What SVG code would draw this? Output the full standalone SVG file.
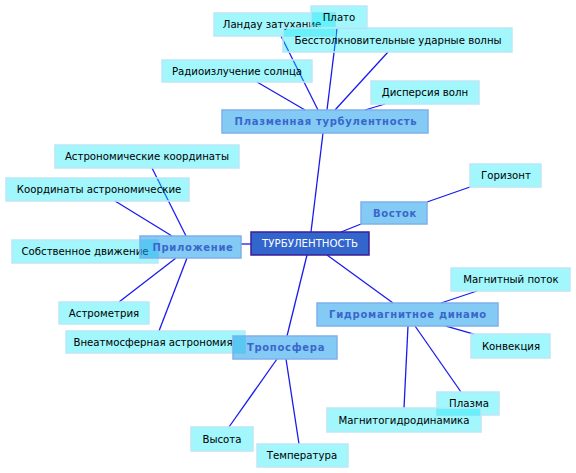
<svg xmlns="http://www.w3.org/2000/svg" width="576" height="473" viewBox="0 0 576 473">
<style>
.leaf rect{fill:#00e8f6;fill-opacity:0.37;stroke:#bce6f6;stroke-width:1.5}
.leaf text{font-family:"DejaVu Sans",sans-serif;font-size:10.2px;fill:#000;text-anchor:middle;dominant-baseline:central}
.cat rect{fill:#1ea0eb;fill-opacity:0.55;stroke:#7fb0ea;stroke-width:1.5}
.cat text{font-family:"DejaVu Sans",sans-serif;font-size:10px;font-weight:bold;fill:#3a66cc;letter-spacing:0.7px;text-anchor:middle;dominant-baseline:central}
.root rect{fill:#3366cc;stroke:#3a1f99;stroke-width:1.5}
.root text{font-family:"DejaVu Sans",sans-serif;font-size:10.2px;fill:#fff;text-anchor:middle;dominant-baseline:central}
#connectors line{stroke:#1a1aee;stroke-width:1.3}
</style>
<rect width="576" height="473" fill="#fff"/>
<g id="connectors">
<line x1="311" y1="232" x2="323" y2="133"/>
<line x1="241" y1="244" x2="251" y2="244"/>
<line x1="341" y1="232" x2="361" y2="224"/>
<line x1="327" y1="255" x2="393" y2="303"/>
<line x1="307" y1="255" x2="287" y2="336"/>
<line x1="427" y1="202" x2="470" y2="187"/>
<line x1="441" y1="303" x2="477" y2="291"/>
<line x1="446" y1="326" x2="474" y2="334"/>
<line x1="415" y1="326" x2="461" y2="392"/>
<line x1="408" y1="326" x2="404" y2="408"/>
<line x1="277" y1="359" x2="229" y2="427"/>
<line x1="286" y1="359" x2="299" y2="444"/>
<line x1="186" y1="236" x2="152" y2="168"/>
<line x1="172" y1="236" x2="115" y2="201"/>
<line x1="176" y1="258" x2="119" y2="302"/>
<line x1="187" y1="258" x2="159" y2="331"/>
<line x1="305" y1="110" x2="257" y2="82"/>
<line x1="318" y1="110" x2="281" y2="36"/>
<line x1="327" y1="110" x2="337" y2="28"/>
<line x1="335" y1="110" x2="388" y2="52"/>
<line x1="365" y1="110" x2="385" y2="104"/>
</g>
<g id="n-landau" class="leaf"><rect x="214" y="13" width="121" height="23"/><text x="272" y="24.5">Ландау затухание</text></g>
<g id="n-plato" class="leaf"><rect x="311" y="6" width="56" height="22"/><text x="339" y="17">Плато</text></g>
<g id="n-bess" class="leaf"><rect x="283" y="28" width="229" height="24"/><text x="398" y="40">Бесстолкновительные ударные волны</text></g>
<g id="n-radio" class="leaf"><rect x="162" y="60" width="150" height="22"/><text x="237" y="71">Радиоизлучение солнца</text></g>
<g id="n-disp" class="leaf"><rect x="371" y="81" width="108" height="23"/><text x="425" y="92.5">Дисперсия волн</text></g>
<g id="n-plasmaturb" class="cat"><rect x="222" y="110" width="206" height="23"/><text x="326" y="121.5">Плазменная турбулентность</text></g>
<g id="n-astrocoord" class="leaf"><rect x="55" y="145" width="184" height="23"/><text x="147" y="156.5">Астрономические координаты</text></g>
<g id="n-coordastro" class="leaf"><rect x="6" y="178" width="183" height="23"/><text x="99" y="189.5">Координаты астрономические</text></g>
<g id="n-gorizont" class="leaf"><rect x="470" y="164" width="71" height="23"/><text x="506" y="175.5">Горизонт</text></g>
<g id="n-vostok" class="cat"><rect x="361" y="202" width="66" height="22"/><text x="395" y="213">Восток</text></g>
<g id="n-root" class="root"><rect x="251" y="232" width="118" height="23"/><text x="310" y="243.5">ТУРБУЛЕНТНОСТЬ</text></g>
<g id="n-sobstv" class="leaf"><rect x="12" y="240" width="146" height="23"/><text x="85" y="251.5">Собственное движение</text></g>
<g id="n-prilozh" class="cat"><rect x="140" y="236" width="101" height="22"/><text x="193" y="247">Приложение</text></g>
<g id="n-magpotok" class="leaf"><rect x="451" y="268" width="119" height="23"/><text x="511" y="279.5">Магнитный поток</text></g>
<g id="n-astrometr" class="leaf"><rect x="59" y="302" width="90" height="22"/><text x="104" y="313">Астрометрия</text></g>
<g id="n-gidro" class="cat"><rect x="317" y="303" width="181" height="23"/><text x="408" y="314.5">Гидромагнитное динамо</text></g>
<g id="n-vneatm" class="leaf"><rect x="66" y="331" width="179" height="22"/><text x="153" y="342">Внеатмосферная астрономия</text></g>
<g id="n-konv" class="leaf"><rect x="471" y="334" width="79" height="24"/><text x="511" y="346">Конвекция</text></g>
<g id="n-tropo" class="cat"><rect x="233" y="336" width="104" height="23"/><text x="286" y="347.5">Тропосфера</text></g>
<g id="n-plazma" class="leaf"><rect x="437" y="392" width="62" height="23"/><text x="469" y="403.5">Плазма</text></g>
<g id="n-mgd" class="leaf"><rect x="327" y="408" width="154" height="24"/><text x="404" y="420">Магнитогидродинамика</text></g>
<g id="n-vysota" class="leaf"><rect x="191" y="427" width="62" height="24"/><text x="222" y="439">Высота</text></g>
<g id="n-temp" class="leaf"><rect x="257" y="444" width="91" height="23"/><text x="302" y="455.5">Температура</text></g>
</svg>
